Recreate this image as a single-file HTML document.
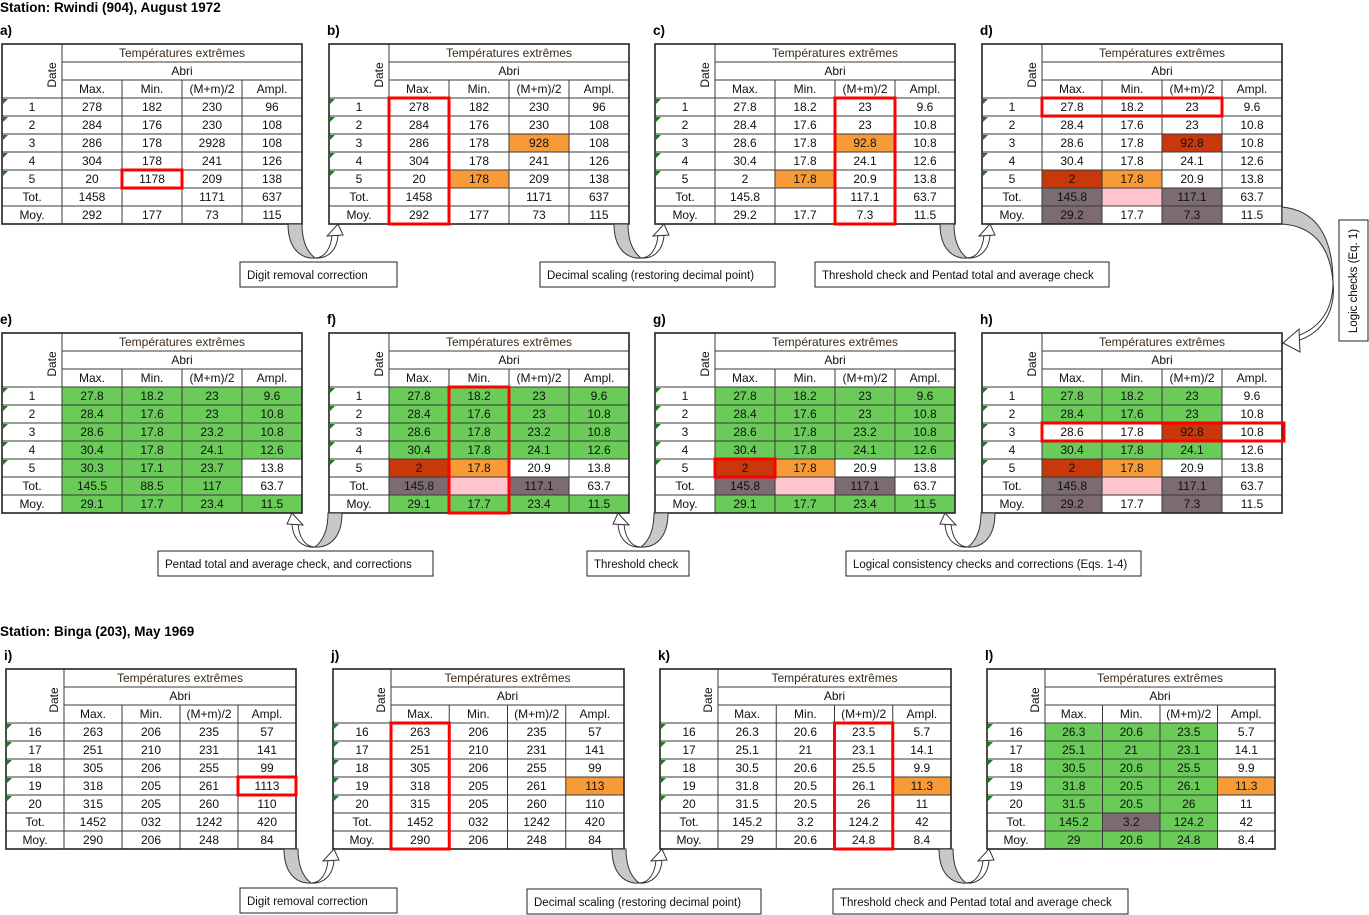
<!DOCTYPE html>
<html><head><meta charset="utf-8">
<style>
html,body{margin:0;padding:0;background:#fff;}
body{width:1369px;height:915px;position:relative;overflow:hidden;font-family:"Liberation Sans",sans-serif;}
svg{position:absolute;left:0;top:0;}
</style></head>
<body>
<svg id="fig" width="1369" height="915" viewBox="0 0 1369 915" xmlns="http://www.w3.org/2000/svg" font-family="Liberation Sans, sans-serif">
<g id="static">
<text x="0" y="12" font-size="13.5" font-weight="bold">Station: Rwindi (904), August 1972</text>
<text x="0" y="636" font-size="13.5" font-weight="bold">Station: Binga (203), May 1969</text>
</g>
<g id="tables"></g>
<g id="arrows"></g>
<g id="labels"></g>
</svg>
<script>
// ---- data ----
const dateA = ['1','2','3','4','5','Tot.','Moy.'];
const dateB = ['16','17','18','19','20','Tot.','Moy.'];
const colHeads = ['Max.','Min.','(M+m)/2','Ampl.'];
const valsA = [[278,182,230,96],[284,176,230,108],[286,178,2928,108],[304,178,241,126],[20,1178,209,138],[1458,'',1171,637],[292,177,73,115]];
const valsB = [[278,182,230,96],[284,176,230,108],[286,178,928,108],[304,178,241,126],[20,178,209,138],[1458,'',1171,637],[292,177,73,115]];
const valsC = [[27.8,18.2,23,9.6],[28.4,17.6,23,10.8],[28.6,17.8,92.8,10.8],[30.4,17.8,24.1,12.6],[2,17.8,20.9,13.8],[145.8,'',117.1,63.7],[29.2,17.7,7.3,11.5]];
const valsE = [[27.8,18.2,23,9.6],[28.4,17.6,23,10.8],[28.6,17.8,23.2,10.8],[30.4,17.8,24.1,12.6],[30.3,17.1,23.7,13.8],[145.5,88.5,117,63.7],[29.1,17.7,23.4,11.5]];
const valsF = [[27.8,18.2,23,9.6],[28.4,17.6,23,10.8],[28.6,17.8,23.2,10.8],[30.4,17.8,24.1,12.6],[2,17.8,20.9,13.8],[145.8,'',117.1,63.7],[29.1,17.7,23.4,11.5]];
const valsI = [[263,206,235,57],[251,210,231,141],[305,206,255,99],[318,205,261,1113],[315,205,260,110],[1452,'032',1242,420],[290,206,248,84]];
const valsJ = [[263,206,235,57],[251,210,231,141],[305,206,255,99],[318,205,261,113],[315,205,260,110],[1452,'032',1242,420],[290,206,248,84]];
const valsK = [[26.3,20.6,23.5,5.7],[25.1,21,23.1,14.1],[30.5,20.6,25.5,9.9],[31.8,20.5,26.1,11.3],[31.5,20.5,26,11],[145.2,3.2,124.2,42],[29,20.6,24.8,8.4]];
const colsNone = ['....','....','....','....','....','....','....'];
const colsB = ['....','....','..O.','....','.O..','....','....'];
const colsD = ['....','....','..R.','....','RO..','PKP.','P.P.'];
const colsE = ['GGGG','GGGG','GGGG','GGGG','GGG.','GGG.','GGGG'];
const colsF = ['GGGG','GGGG','GGGG','GGGG','RO..','PKP.','GGGG'];
const colsH = ['GGG.','GGG.','..R.','GGG.','RO..','PKP.','P.P.'];
const colsJ = ['....','....','....','...O','....','....','....'];
const colsL = ['GGG.','GGG.','GGG.','GGGO','GGG.','GPG.','GGG.'];
const tables = [
 {id:'a',x:2,y:44,w:300,dw:60,d:dateA,v:valsA,c:colsNone,box:[4,2,4,2]},
 {id:'b',x:329,y:44,w:300,dw:60,d:dateA,v:valsB,c:colsB,box:[0,1,6,1]},
 {id:'c',x:655,y:44,w:300,dw:60,d:dateA,v:valsC,c:colsB,box:[0,3,6,3]},
 {id:'d',x:982,y:44,w:300,dw:60,d:dateA,v:valsC,c:colsD,box:[0,1,0,3]},
 {id:'e',x:2,y:333,w:300,dw:60,d:dateA,v:valsE,c:colsE,box:null},
 {id:'f',x:329,y:333,w:300,dw:60,d:dateA,v:valsF,c:colsF,box:[0,2,6,2]},
 {id:'g',x:655,y:333,w:300,dw:60,d:dateA,v:valsF,c:colsF,box:[4,1,4,1]},
 {id:'h',x:982,y:333,w:300,dw:60,d:dateA,v:valsC,c:colsH,box:[2,1,2,4]},
 {id:'i',x:6,y:669,w:290,dw:58,d:dateB,v:valsI,c:colsNone,box:[3,4,3,4]},
 {id:'j',x:333,y:669,w:291,dw:58,d:dateB,v:valsJ,c:colsJ,box:[0,1,6,1]},
 {id:'k',x:660,y:669,w:291,dw:58,d:dateB,v:valsK,c:colsJ,box:[0,3,6,3]},
 {id:'l',x:987,y:669,w:288,dw:58,d:dateB,v:valsK,c:colsL,box:null}
];
const palette = {G:'#6ACB58',O:'#F79B38',R:'#C8380A',P:'#7C6B72',K:'#FFC4CE'};
const NS='http://www.w3.org/2000/svg';
function mk(tag, attrs, parent){const e=document.createElementNS(NS,tag);for(const k in attrs)e.setAttribute(k,attrs[k]);parent.appendChild(e);return e;}
const tg=document.getElementById('tables');
const RH=18;
tables.forEach(t=>{
  const g=mk('g',{},tg);
  
  
  const lab=mk('text',{x:t.x-2,y:t.y-9,'font-size':13.5,'font-weight':'bold'},g);
  lab.textContent=t.id+')';
  
  
  const cw=(t.w-t.dw)/4;
  const H=RH*10;
  for(let r=0;r<7;r++)for(let c=0;c<4;c++){
    const code=t.c[r][c];
    if(palette[code]){
      const rc=mk('rect',{x:t.x+t.dw+c*cw,y:t.y+RH*(3+r),width:cw,height:RH,fill:palette[code]},g);
      
      
    }
  }
  const ln=(x1,y1,x2,y2)=>mk('line',{x1,y1,x2,y2,stroke:'#3a3a3a','stroke-width':1},g);
  ln(t.x+t.dw,t.y+RH,t.x+t.w,t.y+RH);
  ln(t.x+t.dw,t.y+RH*2,t.x+t.w,t.y+RH*2);
  for(let r=3;r<10;r++)ln(t.x,t.y+RH*r,t.x+t.w,t.y+RH*r);
  ln(t.x+t.dw,t.y,t.x+t.dw,t.y+H);
  for(let c=1;c<4;c++)ln(t.x+t.dw+c*cw,t.y+RH*2,t.x+t.dw+c*cw,t.y+H);
  mk('rect',{x:t.x,y:t.y,width:t.w,height:H,fill:'none',stroke:'#222','stroke-width':1.6},g);
  const tx=(x,y,s,fs,extra)=>{const e=mk('text',Object.assign({x,y,'font-size':fs||12,'text-anchor':'middle',fill:'#111'},extra||{}),g);e.textContent=s;return e;};
  tx(t.x+t.dw+(t.w-t.dw)/2,t.y+13,'Températures extrêmes',12,{fill:'#3b2a1a'});
  tx(t.x+t.dw+(t.w-t.dw)/2,t.y+RH+13,'Abri');
  colHeads.forEach((h,c)=>tx(t.x+t.dw+c*cw+cw/2,t.y+RH*2+13,h));
  tx(0,0,'Date',12,{transform:`translate(${t.x+t.dw-6},${t.y+RH*1.5+4}) rotate(-90)`});
  for(let r=0;r<7;r++){
    const yy=t.y+RH*(3+r);
    tx(t.x+t.dw/2,yy+13,t.d[r]);
    if(r<5){mk('polygon',{points:`${t.x+1},${yy+1} ${t.x+6},${yy+1} ${t.x+1},${yy+6}`,fill:'#1f7a1f'},g);}
    for(let c=0;c<4;c++){
      const v=t.v[r][c];
      const e=tx(t.x+t.dw+c*cw+cw/2,yy+13,String(v));
      
      
    }
  }
  if(t.box){
    const [r1,c1,r2,c2]=t.box;
    const bx=t.x+t.dw+(c1-1)*cw, by=t.y+RH*(3+r1);
    const b=mk('rect',{x:bx,y:by,width:cw*(c2-c1+1)+(c2===4&&r1===r2&&c1===1?2:0),height:RH*(r2-r1+1),fill:'none',stroke:'#FF0000','stroke-width':3},g);
    
    
  }
});
const ag=document.getElementById('arrows');
const arrowList=[[294,336,224],[620,662,224],[946,989,224],[336,292,513],[662,619,513],[989,946,513],[290,338,849],[618,666,849],[945,992,849]];
arrowList.forEach(a=>{
  const [sx,ex,y0]=a;
  const s=ex>sx?1:-1;
  const g=mk('g',{transform:`translate(${sx},${y0}) scale(${s},1)`},ag);
  
  
  mk('path',{d:'M-6,0 C-6,28 10,35 21,34 C12,27 8,16 8,0 Z',fill:'#c8c8c8',stroke:'#333','stroke-width':1},g);
  mk('path',{d:'M21,34 C31,34 37,24 38,11 L44,11 C43,27 33,35 21,34 Z',fill:'#fff',stroke:'#333','stroke-width':1},g);
  mk('polygon',{points:'33,12 49,11 44,0',fill:'#fff',stroke:'#333','stroke-width':1},g);
});
const big=mk('g',{},ag);


mk('path',{d:'M1282,207 C1315,210 1333,235 1333,282 C1330,245 1312,226 1282,224 Z',fill:'#c8c8c8',stroke:'#333','stroke-width':1},big);
mk('path',{d:'M1333,282 C1333,310 1320,328 1297,336 L1297,341 C1322,333 1336,312 1333,282 Z',fill:'#fff',stroke:'#333','stroke-width':1},big);
mk('polygon',{points:'1283,343 1299,329 1300,352',fill:'#fff',stroke:'#333','stroke-width':1},big);
const lg=document.getElementById('labels');
const labelList=[
 ['Digit removal correction',240,262,157],
 ['Decimal scaling (restoring decimal point)',540,262,235],
 ['Threshold check and Pentad total and average check',815,262,294],
 ['Pentad total and average check, and corrections',158,551,275],
 ['Threshold check',587,551,102],
 ['Logical consistency checks and corrections (Eqs. 1-4)',846,551,295],
 ['Digit removal correction',240,888,157],
 ['Decimal scaling (restoring decimal point)',527,889,234],
 ['Threshold check and Pentad total and average check',833,889,295]
];
labelList.forEach(l=>{
  const g=mk('g',{},lg);
  
  
  mk('rect',{x:l[1],y:l[2],width:l[3],height:25,fill:'#fff',stroke:'#222','stroke-width':1},g);
  const t=mk('text',{x:l[1]+7,y:l[2]+17,'font-size':11.5,fill:'#111'},g);
  t.textContent=l[0];
});
const vg=mk('g',{},lg);


mk('rect',{x:1339,y:220,width:29,height:121,fill:'#fff',stroke:'#222','stroke-width':1},vg);
const vt=mk('text',{'font-size':11.5,'text-anchor':'middle',transform:'translate(1357,281) rotate(-90)'},vg);
vt.textContent='Logic checks (Eq. 1)';
</script>
</body></html>
